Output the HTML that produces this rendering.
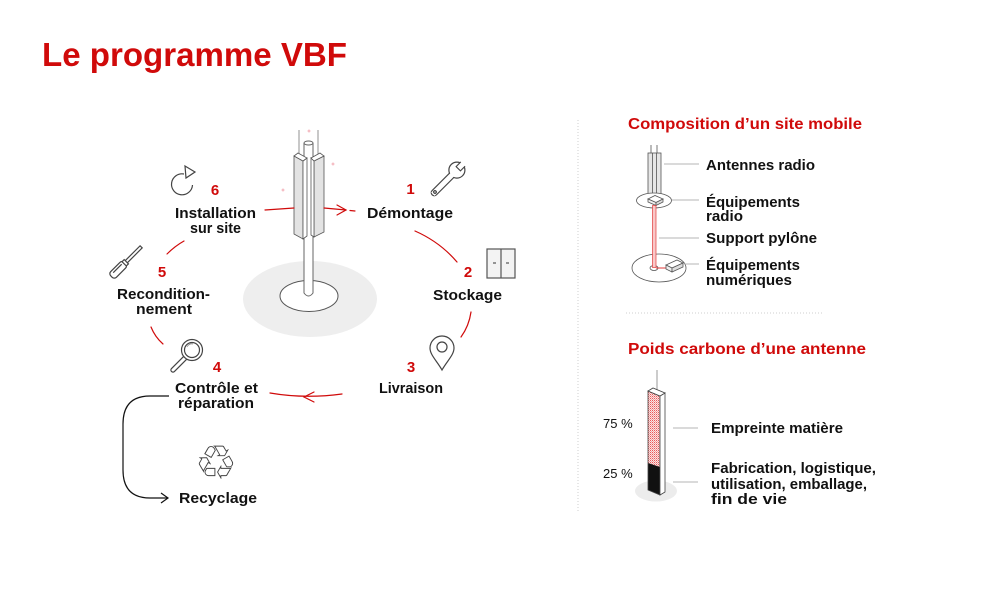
<!DOCTYPE html>
<html><head><meta charset="utf-8"><style>
html,body{margin:0;padding:0;background:#fff;}
svg{display:block;}
text{font-family:"Liberation Sans",sans-serif;}
.t{font-weight:bold;font-size:15px;fill:#111;}
.n{font-weight:bold;font-size:15px;fill:#d00a0a;}
.r{fill:#d00a0a;font-weight:bold;font-size:16px;}
</style></head><body>
<svg width="1000" height="599" viewBox="0 0 1000 599" xmlns="http://www.w3.org/2000/svg">
<defs>
<pattern id="pk" width="2" height="2" patternUnits="userSpaceOnUse">
<rect width="2" height="2" fill="#fbe3e3"/><rect width="1" height="1" fill="#e85a5a"/><rect x="1" y="1" width="1" height="1" fill="#f3a3a3"/>
</pattern>
</defs>

<!-- Title -->
<text x="42" y="66" font-size="33" font-weight="bold" fill="#d00a0a" textLength="305" lengthAdjust="spacingAndGlyphs">Le programme VBF</text>

<!-- dividers -->
<line x1="578" y1="120" x2="578" y2="512" stroke="#cfcfcf" stroke-width="1" stroke-dasharray="1,2"/>
<line x1="626" y1="313" x2="822" y2="313" stroke="#cfcfcf" stroke-width="1" stroke-dasharray="1,2"/>

<!-- Tower -->
<ellipse cx="310" cy="299" rx="67" ry="38" fill="#eeeeee"/>
<ellipse cx="309" cy="296" rx="29" ry="15.5" fill="#fff" stroke="#555" stroke-width="1"/>
<line x1="299" y1="130" x2="299" y2="158" stroke="#777" stroke-width="0.8"/>
<line x1="318" y1="130" x2="318" y2="158" stroke="#777" stroke-width="0.8"/>
<path d="M304,143 V293 Q308.5,299 313,293 V143" fill="#fff" stroke="#666" stroke-width="1"/>
<ellipse cx="308.5" cy="143" rx="4.5" ry="2" fill="#fff" stroke="#666" stroke-width="1"/>
<!-- left panel -->
<polygon points="294,156 303,161 303,239 294,234" fill="#e3e3e3" stroke="#555" stroke-width="0.8"/>
<polygon points="303,161 307,158 307,236 303,239" fill="#fff" stroke="#555" stroke-width="0.8"/>
<polygon points="294,156 298,153 307,158 303,161" fill="#fff" stroke="#555" stroke-width="0.8"/>
<!-- right panel -->
<polygon points="314,161 324,156 324,232 314,237" fill="#e3e3e3" stroke="#555" stroke-width="0.8"/>
<polygon points="311,158 314,161 314,237 311,235" fill="#fff" stroke="#555" stroke-width="0.8"/>
<polygon points="311,158 320,153 324,156 314,161" fill="#fff" stroke="#555" stroke-width="0.8"/>
<!-- sparkles -->
<g stroke="#f2a9b2" stroke-width="1">
<path d="M307.5,131 h3 M309,129.5 v3"/>
<path d="M331.5,164 h3 M333,162.5 v3"/>
<path d="M281.5,190 h3 M283,188.5 v3"/>
</g>

<!-- cycle connectors -->
<g stroke="#d00a0a" stroke-width="1.2" fill="none" stroke-linecap="round">
<path d="M265,210 L294,208"/>
<path d="M324,208 L346,210"/>
<path d="M337,205 L346,210 L337,215"/>
<path d="M350,210.5 L355,211"/>
<path d="M415,231 Q440,242 457,262"/>
<path d="M471,312 Q469,326 461,337"/>
<path d="M342,394 Q305,399 270,393"/>
<path d="M314,392 L304,397 L314,402"/>
<path d="M163,344 Q155,337 151,327"/>
<path d="M167,254 Q175,246 184,241"/>
</g>
<!-- black connector to recycling -->
<path d="M169,396 H150 Q123,396 123,424 V470 Q123,498 150,498 H168" fill="none" stroke="#111" stroke-width="1.2"/>
<path d="M161,493 L168,498 L161,503" fill="none" stroke="#111" stroke-width="1.2"/>

<!-- labels -->
<text class="n" x="410.5" y="194" text-anchor="middle">1</text>
<text class="t" x="410" y="218" text-anchor="middle" textLength="86" lengthAdjust="spacingAndGlyphs">Démontage</text>
<text class="n" x="468" y="277" text-anchor="middle">2</text>
<text class="t" x="467.5" y="300" text-anchor="middle" textLength="69" lengthAdjust="spacingAndGlyphs">Stockage</text>
<text class="n" x="411" y="372" text-anchor="middle">3</text>
<text class="t" x="411" y="393" text-anchor="middle" textLength="64" lengthAdjust="spacingAndGlyphs">Livraison</text>
<text class="n" x="217" y="372" text-anchor="middle">4</text>
<text class="t" x="216.5" y="393" text-anchor="middle" textLength="83" lengthAdjust="spacingAndGlyphs">Contrôle et</text>
<text class="t" x="216" y="408" text-anchor="middle" textLength="76" lengthAdjust="spacingAndGlyphs">réparation</text>
<text class="n" x="162" y="277" text-anchor="middle">5</text>
<text class="t" x="163.5" y="299" text-anchor="middle" textLength="93" lengthAdjust="spacingAndGlyphs">Recondition-</text>
<text class="t" x="164" y="314" text-anchor="middle" textLength="56" lengthAdjust="spacingAndGlyphs">nement</text>
<text class="n" x="215" y="195" text-anchor="middle">6</text>
<text class="t" x="215.5" y="218" text-anchor="middle" textLength="81" lengthAdjust="spacingAndGlyphs">Installation</text>
<text class="t" x="215.5" y="233" text-anchor="middle" textLength="51" lengthAdjust="spacingAndGlyphs">sur site</text>
<text class="t" x="218" y="503" text-anchor="middle" textLength="78" lengthAdjust="spacingAndGlyphs">Recyclage</text>

<!-- icons -->
<!-- wrench -->
<g transform="translate(447,180) rotate(-45)" stroke="#444" stroke-width="1.2" fill="#fff">
<rect x="-21" y="-3" width="32" height="6" rx="3"/>
<circle cx="14" cy="0" r="8"/>
<rect x="-20" y="-2.4" width="30" height="4.8" stroke="none"/>
<path d="M22.5,-3 H16 V3 H22.5"/>
<rect x="16.6" y="-2.4" width="7" height="4.8" stroke="none"/>
<circle cx="-17" cy="0" r="1.3"/>
</g>
<!-- storage box -->
<g stroke="#555" stroke-width="1.2">
<rect x="487" y="249" width="28" height="29" fill="#f3f3f3"/>
<line x1="501" y1="249" x2="501" y2="278"/>
<line x1="493" y1="263" x2="496" y2="263"/>
<line x1="506" y1="263" x2="509" y2="263"/>
</g>
<!-- pin -->
<g stroke="#444" stroke-width="1.2" fill="#fff">
<path d="M442,370 C437,361 430,355 430,348 A12,12 0 1 1 454,348 C454,355 447,361 442,370 Z"/>
<circle cx="442" cy="347" r="5"/>
</g>
<!-- magnifier -->
<g>
<line x1="185" y1="358" x2="173" y2="370" stroke="#444" stroke-width="5.4" stroke-linecap="round"/>
<line x1="185" y1="358" x2="173" y2="370" stroke="#fff" stroke-width="3" stroke-linecap="round"/>
<circle cx="192" cy="350" r="10.5" fill="#fff" stroke="#444" stroke-width="1.2"/>
<circle cx="192" cy="350" r="7.5" fill="#fff" stroke="#444" stroke-width="1.2"/>
<path d="M187,347 A5,5 0 0 1 193,344" fill="none" stroke="#888" stroke-width="0.8"/>
</g>
<!-- screwdriver -->
<g transform="translate(127,261) rotate(-45)" stroke="#444" stroke-width="1.2" fill="#fff">
<rect x="-2" y="-1.5" width="22" height="3"/>
<rect x="-22" y="-4" width="19" height="8" rx="3"/>
<line x1="-18" y1="-1.5" x2="-6" y2="-1.5"/>
<rect x="-4" y="-3" width="3" height="6"/>
</g>
<!-- refresh -->
<g stroke="#444" stroke-width="1.2" fill="none">
<path d="M184,174 A10.5,10.5 0 1 0 192.5,185"/>
<polygon points="185,166 195,172 186,178" fill="#fff"/>
</g>
<!-- recycle -->
<text x="216" y="479" text-anchor="middle" font-family="DejaVu Sans, sans-serif" font-size="47" fill="#444">♲</text>

<!-- Right: composition -->
<text class="r" x="628" y="129" textLength="234" lengthAdjust="spacingAndGlyphs">Composition d’un site mobile</text>
<g stroke="#555" stroke-width="0.8">
<line x1="651" y1="145" x2="651" y2="153"/>
<line x1="657" y1="145" x2="657" y2="153"/>
<rect x="648" y="153" width="13" height="44" fill="#e6e6e6"/>
<line x1="652.5" y1="153" x2="652.5" y2="197"/>
<line x1="656.5" y1="153" x2="656.5" y2="197"/>
<ellipse cx="654" cy="200.5" rx="17.5" ry="7.5" fill="#fff"/>
<polygon points="648,199 655,195.5 663,199 656,202.5" fill="#fff"/>
<polygon points="648,199 656,202.5 656,205.5 648,202" fill="#eee"/>
<polygon points="656,202.5 663,199 663,202 656,205.5" fill="#ddd"/>
<ellipse cx="659" cy="268" rx="27" ry="14" fill="#fff"/>
<ellipse cx="654" cy="268" rx="4" ry="2.5" fill="#fff"/>
</g>
<rect x="652.5" y="205.5" width="3.5" height="62" fill="#f9c8c8" stroke="#e03a3a" stroke-width="0.7"/>
<line x1="656" y1="268" x2="668" y2="268" stroke="#e03a3a" stroke-width="1"/>
<g stroke="#555" stroke-width="0.8">
<polygon points="666,265 677,260 683,263 672,268" fill="#fff"/>
<polygon points="666,265 672,268 672,272 666,269" fill="#eee"/>
<polygon points="672,268 683,263 683,267 672,272" fill="#ddd"/>
</g>
<g stroke="#b5b5b5" stroke-width="1">
<line x1="664" y1="164" x2="699" y2="164"/>
<line x1="672" y1="200" x2="699" y2="200"/>
<line x1="659" y1="238" x2="699" y2="238"/>
<line x1="684" y1="264" x2="699" y2="264"/>
</g>
<text class="t" x="706" y="170" textLength="109" lengthAdjust="spacingAndGlyphs">Antennes radio</text>
<text class="t" x="706" y="207" textLength="94" lengthAdjust="spacingAndGlyphs">Équipements</text>
<text class="t" x="706" y="221" textLength="37" lengthAdjust="spacingAndGlyphs">radio</text>
<text class="t" x="706" y="243" textLength="111" lengthAdjust="spacingAndGlyphs">Support pylône</text>
<text class="t" x="706" y="270" textLength="94" lengthAdjust="spacingAndGlyphs">Équipements</text>
<text class="t" x="706" y="285" textLength="86" lengthAdjust="spacingAndGlyphs">numériques</text>

<!-- Right: carbone -->
<text class="r" x="628" y="354" textLength="238" lengthAdjust="spacingAndGlyphs">Poids carbone d’une antenne</text>
<ellipse cx="656" cy="491" rx="21" ry="10.5" fill="#ececec"/>
<line x1="657" y1="370" x2="657" y2="391" stroke="#999" stroke-width="1"/>
<polygon points="648,391 660,396 660,467 648,463" fill="url(#pk)"/>
<polygon points="648,463 660,467 660,495 648,490" fill="#111"/>
<polygon points="648,391 660,396 660,495 648,490" fill="none" stroke="#444" stroke-width="0.8"/>
<polygon points="660,396 665,393 665,492 660,495" fill="#fff" stroke="#444" stroke-width="0.8"/>
<polygon points="648,391 653,388 665,393 660,396" fill="#fff" stroke="#444" stroke-width="0.8"/>
<g stroke="#b5b5b5" stroke-width="1">
<line x1="673" y1="428" x2="698" y2="428"/>
<line x1="673" y1="482" x2="698" y2="482"/>
</g>
<text x="603" y="428" font-size="13" fill="#111">75 %</text>
<text x="603" y="478" font-size="13" fill="#111">25 %</text>
<text class="t" x="711" y="433" textLength="132" lengthAdjust="spacingAndGlyphs">Empreinte matière</text>
<text class="t" x="711" y="473" textLength="165" lengthAdjust="spacingAndGlyphs">Fabrication, logistique,</text>
<text class="t" x="711" y="489" textLength="156" lengthAdjust="spacingAndGlyphs">utilisation, emballage,</text>
<text class="t" x="711" y="504" textLength="76" lengthAdjust="spacingAndGlyphs">fin de vie</text>
</svg>
</body></html>
